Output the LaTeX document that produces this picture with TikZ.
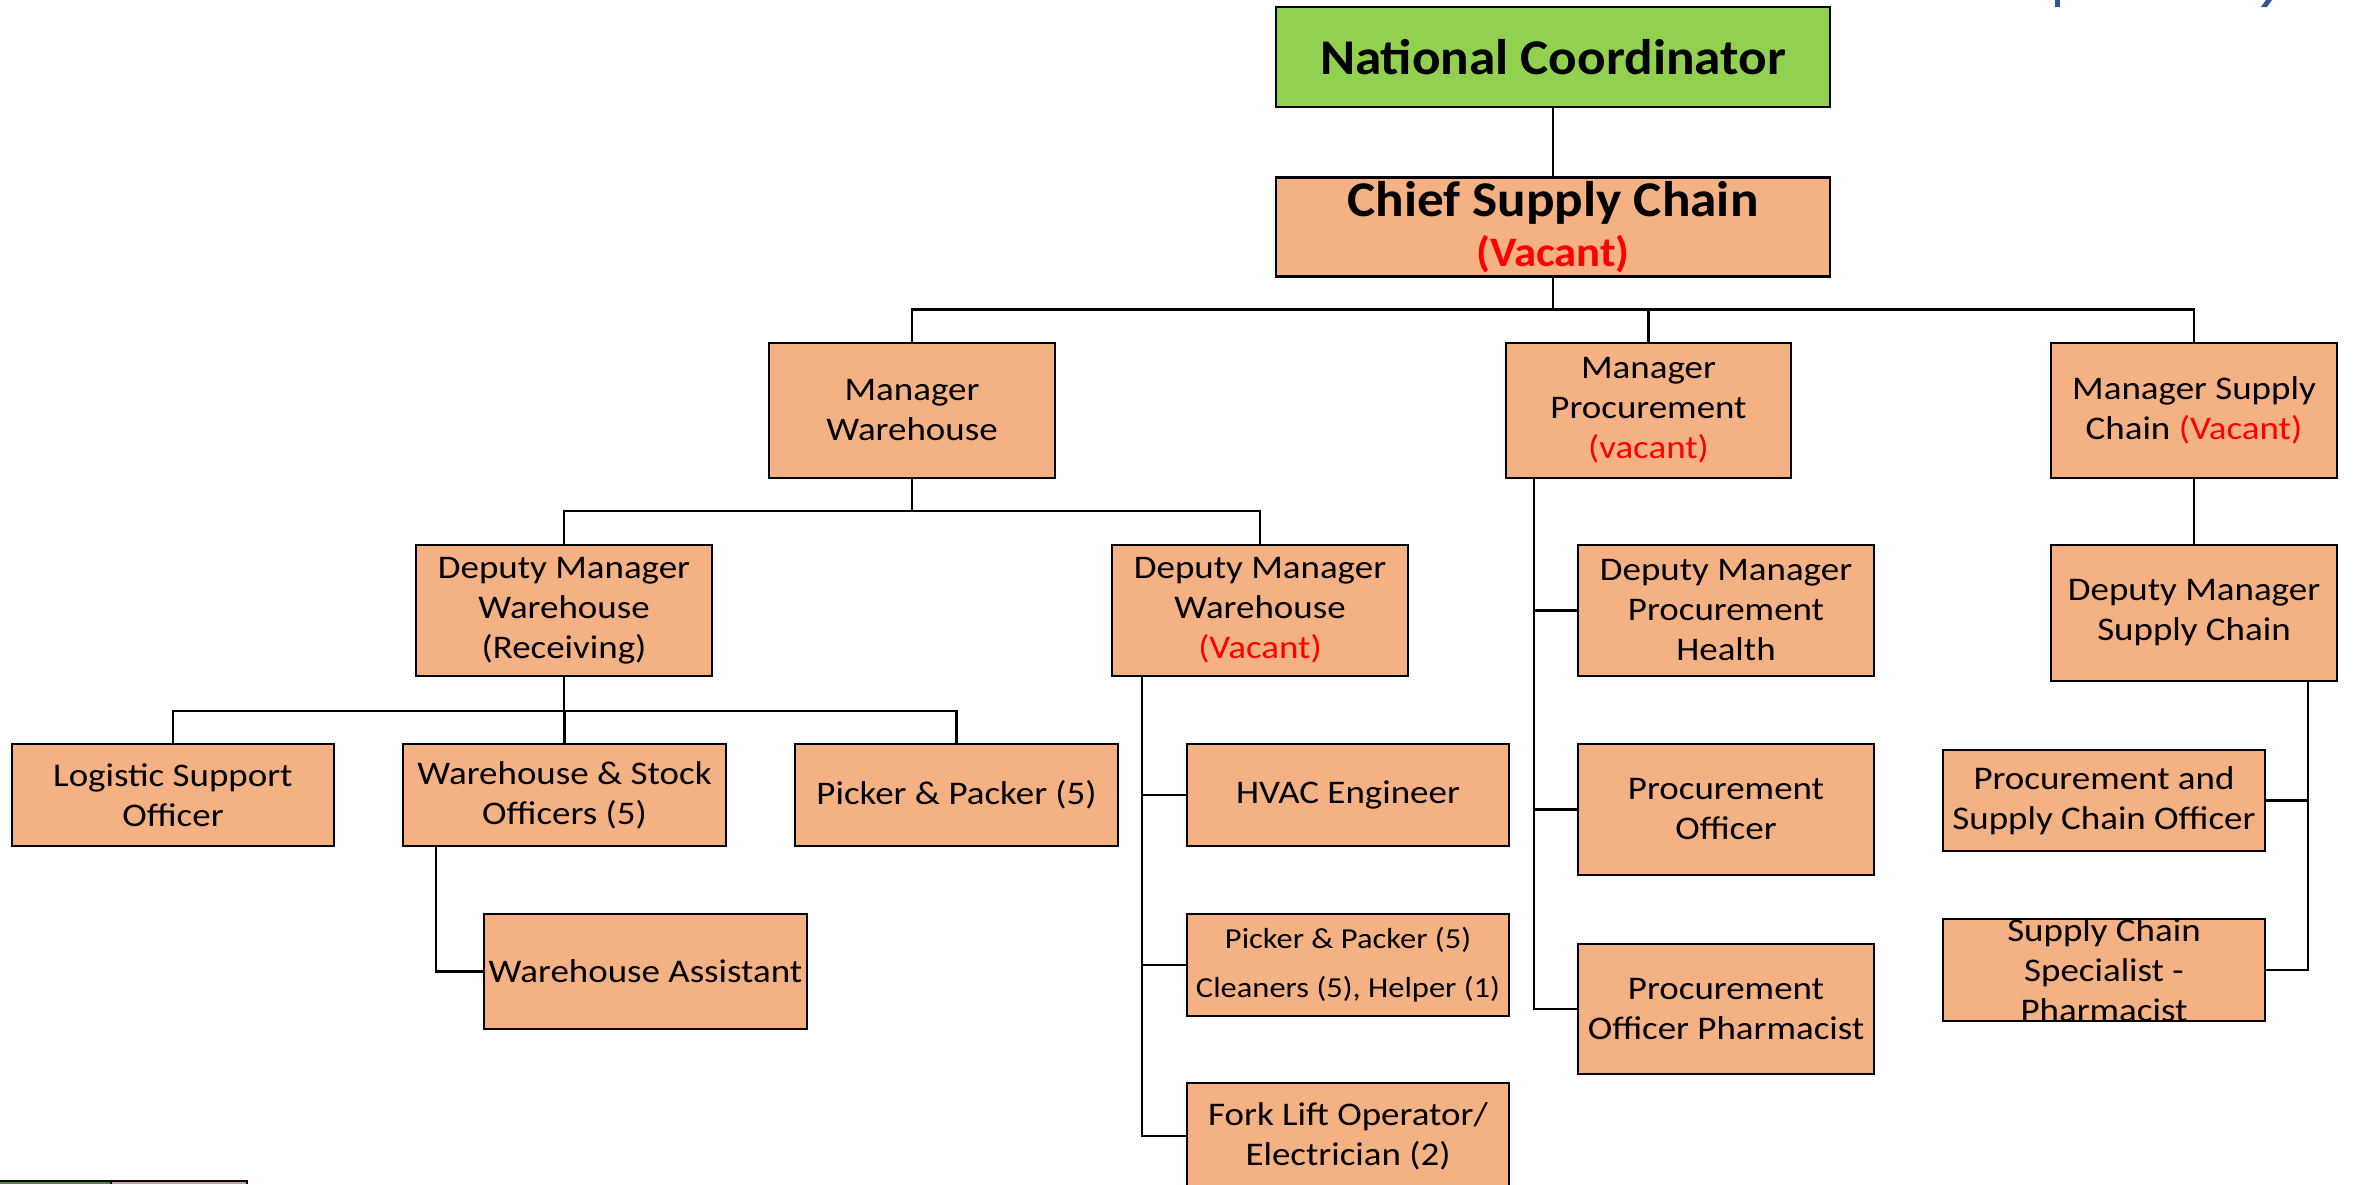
\documentclass[tikz,border=0pt]{standalone}
\usepackage{fontspec}
\setmainfont[FakeStretch=1.12]{Carlito}
\newfontfamily\titlefont[FakeStretch=1.065]{Carlito}
\definecolor{boxfill}{HTML}{F4B183}
\definecolor{ncgreen}{HTML}{92D050}
\definecolor{vacred}{HTML}{FF0000}
\definecolor{titleblue}{HTML}{2F5597}
\definecolor{tabgreen}{HTML}{4E8A3A}
\definecolor{tabpink}{HTML}{C8A0A0}
\begin{document}
\begin{tikzpicture}[x=1pt,y=-1pt,
  box/.style={draw=black, line width=2.6pt, fill=boxfill, inner sep=0pt, align=center,
    font=\fontsize{33}{40}\selectfont},
  link/.style={draw=black, line width=2.4pt},
  vac/.style={text=vacred}]
\useasboundingbox (0,0) rectangle (2356,1184);
\fill[white] (0,0) rectangle (2356,1184);
% clipped title fragments
\fill[titleblue] (2055,0) rectangle (2060,7);
\fill[titleblue] (2266,0) -- (2272,0) -- (2267,7) -- (2261,7) -- cycle;
% clipped table edge
\fill[tabgreen] (0,1182) rectangle (111,1184);
\fill[tabpink] (111,1182) rectangle (247,1184);
\draw[line width=2pt] (0,1181) -- (247,1181);
\draw[line width=2pt] (111,1180) -- (111,1184) (247,1180) -- (247,1184);

% level 0/1
\node[box, fill=ncgreen, minimum width=554, minimum height=100,
  font=\titlefont\fontsize{50}{50}\selectfont\bfseries] (nc) at (1553,57) {National Coordinator};
\node[box, minimum width=554, minimum height=99,
  font=\titlefont\fontsize{50}{50}\selectfont\bfseries] (csc) at (1553,227)
  {Chief Supply Chain\\[0pt]{\fontsize{42}{42}\selectfont\color{vacred}(Vacant)}};

% managers
\node[box, minimum width=286, minimum height=135] (mw) at (912,410.5) {Manager\\Warehouse};
\node[box, minimum width=285, minimum height=135] (mp) at (1648.5,410.5) {Manager\\Procurement\\{\color{vacred}(vacant)}};
\node[box, minimum width=286, minimum height=135] (msc) at (2194,410.5) {Manager Supply\\Chain {\color{vacred}(Vacant)}};

% deputies
\node[box, minimum width=296, minimum height=131] (dmr) at (564,610.5) {Deputy Manager\\Warehouse\\(Receiving)};
\node[box, minimum width=296, minimum height=131] (dmv) at (1260,610.5) {Deputy Manager\\Warehouse\\{\color{vacred}(Vacant)}};
\node[box, minimum width=296, minimum height=131] (dmph) at (1726,610.5) {Deputy Manager\\Procurement\\Health};
\node[box, minimum width=286, minimum height=136] (dmsc) at (2194,613) {Deputy Manager\\Supply Chain};

% row 3
\node[box, minimum width=322, minimum height=102] (lso) at (173,795) {Logistic Support\\Officer};
\node[box, minimum width=323, minimum height=102] (ws) at (564.5,795) {Warehouse \& Stock\\Officers (5)};
\node[box, minimum width=323, minimum height=102] (pp) at (956.5,795) {Picker \& Packer (5)};
\node[box, minimum width=322, minimum height=102] (hvac) at (1348,795) {HVAC Engineer};
\node[box, minimum width=296, minimum height=131] (po) at (1726,809.5) {Procurement\\Officer};
\node[box, minimum width=322, minimum height=101] (psco) at (2104,800.5) {Procurement and\\Supply Chain Officer};

% row 4
\node[box, minimum width=323, minimum height=115] (wa) at (645.5,971.5) {Warehouse Assistant};
\node[box, minimum width=322, minimum height=102, font=\fontsize{29}{49}\selectfont] (pc) at (1348,965)
  {Picker \& Packer (5)\\Cleaners (5), Helper (1)};
\node[box, minimum width=296, minimum height=130] (pop) at (1726,1009) {Procurement\\Officer Pharmacist};
\node[box, minimum width=322, minimum height=102] (scs) at (2104,970) {};
\node[font=\fontsize{33}{40}\selectfont, align=center, inner sep=0pt] (scstext) at (scs.center) {Supply Chain\\Specialist -\\Pharmacist};
\node[box, minimum width=322, minimum height=106] (fork) at (1348,1136) {Fork Lift Operator/\\Electrician (2)};

% connectors
\coordinate (bus1) at (1553,309.5);
\draw[link] (nc.south) -- (csc.north);
\draw[link] (csc.south) -- (bus1);
\draw[link] (mw.north) |- (bus1) -| (msc.north);
\draw[link] (mp.north) -- (mp.north |- bus1);

\coordinate (bus2) at (912,511);
\draw[link] (mw.south) -- (bus2);
\draw[link] (dmr.north) |- (bus2) -| (dmv.north);

\coordinate (bus3) at (564,711);
\draw[link] (dmr.south) -- (bus3);
\draw[link] (lso.north) |- (bus3) -| (pp.north);
\draw[link] (ws.north) -- (ws.north |- bus3);

\draw[link] ([xshift=-128.5pt]ws.south) |- (wa.west);

\draw[link] ([xshift=-118pt]dmv.south) |- (fork.west);
\draw[link] ([xshift=-118pt]dmv.south |- hvac.west) -- (hvac.west);
\draw[link] ([xshift=-118pt]dmv.south |- pc.west) -- (pc.west);

\draw[link] ([xshift=-114.5pt]mp.south) |- (pop.west);
\draw[link] ([xshift=-114.5pt]mp.south |- dmph.west) -- (dmph.west);
\draw[link] ([xshift=-114.5pt]mp.south |- po.west) -- (po.west);

\draw[link] (msc.south) -- (dmsc.north);
\draw[link] ([xshift=114pt]dmsc.south) |- (scs.east);
\draw[link] ([xshift=114pt]dmsc.south |- psco.east) -- (psco.east);
\end{tikzpicture}
\end{document}
